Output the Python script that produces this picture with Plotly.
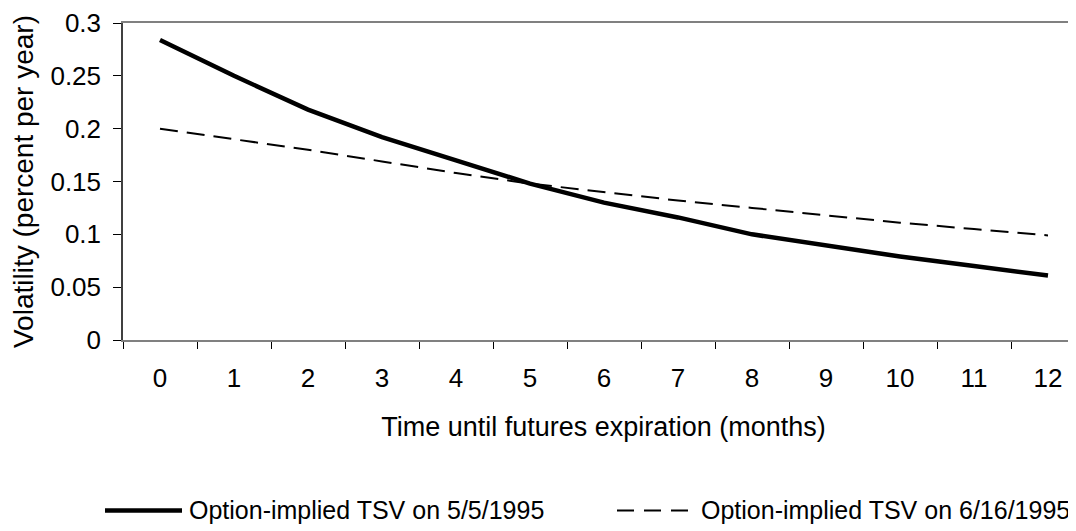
import plotly.graph_objects as go

# months until futures expiration
months = list(range(13))
month_labels = [str(m) for m in months]

# option-implied term structure of volatility
tsv_may = [0.284, 0.250, 0.218, 0.192, 0.170, 0.148, 0.130, 0.116,
           0.100, 0.089, 0.079, 0.070, 0.061]
tsv_june = [0.200, 0.190, 0.180, 0.169, 0.158, 0.148, 0.140, 0.132,
            0.125, 0.118, 0.111, 0.105, 0.099]

y_ticks = [0, 0.05, 0.1, 0.15, 0.2, 0.25, 0.3]
y_tick_labels = ['0', '0.05', '0.1', '0.15', '0.2', '0.25', '0.3']

name_may = 'Option-implied TSV on 5/5/1995'
name_june = 'Option-implied TSV on 6/16/1995'

FONT = 'Liberation Sans, Arial, sans-serif'
W, H = 1076, 531
L, T, B = 115, 12, 199
CAT_PX = 74.0  # width of one month on the category axis


def paper_x(px):
    return (px - L) / (W - L)


def paper_y(py):
    return (H - B - py) / (H - B - T)


fig = go.Figure()

fig.add_trace(go.Scatter(
    x=months, y=tsv_may, name=name_may, mode='lines',
    line=dict(color='black', width=4.5),
))
fig.add_trace(go.Scatter(
    x=months, y=tsv_june, name=name_june, mode='lines',
    line=dict(color='black', width=2, dash='18px,9px'),
))

# legend drawn by hand so the sample lines are as long as in the original
legend_y = 504
for (x0, x1, dash, width), label, tx in [
    ((97, 174, 'solid', 4.5), name_may, 179),
    ((609, 682, '17px,10px', 2), name_june, 691),
]:
    fig.add_shape(type='line', xref='paper', yref='paper',
                  x0=paper_x(x0), x1=paper_x(x1),
                  y0=paper_y(legend_y), y1=paper_y(legend_y),
                  line=dict(color='black', width=width, dash=dash))
    fig.add_annotation(text=label, xref='paper', yref='paper',
                       x=paper_x(tx), y=paper_y(legend_y),
                       xanchor='left', yanchor='middle', showarrow=False,
                       font=dict(size=25, color='black', family=FONT))

fig.update_layout(
    width=W, height=H,
    margin=dict(l=L, r=0, t=T, b=B),
    paper_bgcolor='white',
    plot_bgcolor='white',
    showlegend=False,
    font=dict(family=FONT, size=26, color='black'),
    xaxis=dict(
        range=[-0.5, -0.5 + (W - L) / CAT_PX],
        tickmode='array',
        tickvals=months,
        ticktext=month_labels,
        ticks='',
        ticklabelstandoff=14,
        showgrid=False,
        zeroline=False,
        showline=True,
        linecolor='#808080',
        linewidth=2,
        mirror=True,
        minor=dict(tickmode='array',
                   tickvals=[m - 0.5 for m in months] + [12.5],
                   ticks='outside', ticklen=7, tickwidth=1,
                   tickcolor='black', showgrid=False),
        title=dict(text='Time until futures expiration (months)',
                   font=dict(size=27), standoff=25),
    ),
    yaxis=dict(
        range=[0, 0.3],
        tickmode='array',
        tickvals=y_ticks,
        ticktext=y_tick_labels,
        ticks='outside',
        ticklen=8,
        tickwidth=1,
        tickcolor='black',
        ticklabelstandoff=7,
        ticklabeloverflow='allow',
        showgrid=False,
        zeroline=False,
        showline=True,
        linecolor='#404040',
        linewidth=1.5,
        title=dict(text='Volatility (percent per year)',
                   font=dict(size=28), standoff=10),
    ),
)

fig.write_html('out.html')
